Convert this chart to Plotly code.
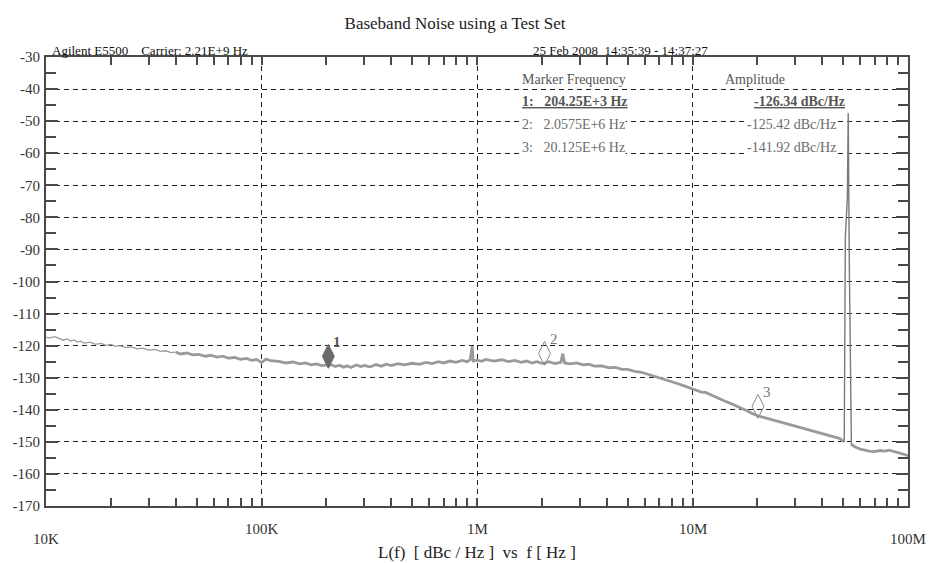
import math
import plotly.graph_objects as go

# Phase-noise trace, baseband sweep (Hz, dBc/Hz)
low_freq = [10000, 10500, 11000, 11500, 12000, 12500, 13000, 13500, 14000, 14500,
            15000, 16000, 17000, 18000, 19000, 20000, 21000, 22000, 23500, 25000,
            26500, 28000, 30000, 32000, 34000, 36000, 38000, 40000]
low_level = [-117.4, -117.6, -117.2, -117.8, -118.3, -117.9, -118.6, -118.2, -118.9, -118.6,
             -119.2, -118.9, -119.6, -119.3, -119.9, -119.6, -120.2, -120.0, -120.6, -120.4,
             -121.0, -120.8, -121.4, -121.2, -121.8, -121.6, -122.2, -122.0]

mid_freq = [40000, 42000, 45000, 48000, 51000, 55000, 58000, 62000, 66000, 70000,
            75000, 80000, 85000, 90000, 95000, 100000, 105000, 110000, 120000, 130000,
            140000, 150000, 160000, 170000, 180000, 190000, 200000, 204250, 210000, 220000,
            230000, 240000, 250000, 260000, 275000, 290000, 300000, 320000, 340000, 360000,
            380000, 400000, 430000, 460000, 500000, 540000, 580000, 620000, 660000, 700000,
            750000, 800000, 850000, 900000, 930000, 950000, 960000, 1000000, 1050000, 1100000,
            1200000, 1300000, 1400000, 1500000, 1600000, 1700000, 1800000, 1900000, 2000000, 2057500,
            2150000, 2300000, 2450000, 2500000, 2550000, 2700000, 2900000, 3100000, 3300000, 3500000,
            3800000, 4100000, 4400000, 4700000, 5000000, 5400000, 5800000, 6200000, 6600000, 7000000,
            7500000, 8000000, 8500000, 9000000, 9500000, 10000000, 10500000, 11000000, 11500000, 12000000,
            13000000, 14000000, 15000000, 16000000, 17000000, 18000000, 19000000, 20125000, 22000000, 24000000,
            26000000, 28000000, 30000000, 33000000, 36000000, 40000000, 44000000, 48000000, 50600000]
mid_level = [-122.0, -122.6, -122.3, -122.9, -122.7, -123.3, -123.0, -123.6, -123.3, -123.9,
             -123.7, -124.3, -124.0, -124.6, -124.3, -125.3, -124.2, -124.7, -124.9, -125.4,
             -125.1, -125.7, -125.4, -126.0, -125.7, -126.2, -126.0, -126.34, -125.9, -126.5,
             -126.1, -126.7, -126.3, -126.8, -126.0, -126.5, -126.2, -126.6, -125.9, -126.4,
             -125.8, -126.2, -125.6, -126.0, -125.5, -125.8, -125.2, -125.6, -125.0, -125.4,
             -124.8, -125.2, -124.6, -125.0, -124.4, -120.2, -124.8, -124.5, -124.9, -124.3,
             -124.8, -124.4, -125.0, -124.6, -125.2, -124.8, -125.4, -125.0, -125.5, -125.42,
             -125.0, -125.6, -125.2, -122.5, -125.4, -125.7, -125.4, -126.0, -125.8, -126.4,
             -126.3, -126.9, -126.8, -127.4, -127.4, -128.0, -128.3, -128.9, -129.3, -129.9,
             -130.5, -131.2, -131.8, -132.4, -133.0, -133.6, -134.0, -134.5, -134.6, -135.2,
             -136.2, -137.2, -138.0, -138.8, -139.6, -140.4, -141.2, -141.92, -142.6, -143.3,
             -143.9, -144.5, -145.0, -145.8, -146.5, -147.3, -148.1, -148.9, -150.0]

# Carrier feed-through spur
spur_freq = [50600000, 50900000, 51200000, 52300000, 52800000, 53400000, 54600000]
spur_level = [-150.0, -124.0, -86.0, -74.0, -47.5, -94.0, -150.5]

high_freq = [54600000, 55000000, 57000000, 60000000, 63000000, 66000000, 70000000, 74000000,
             78000000, 82000000, 86000000, 90000000, 95000000, 100000000]
high_level = [-150.5, -151.0, -151.6, -152.3, -152.6, -152.9, -153.0, -152.7,
              -152.9, -152.6, -153.0, -153.3, -153.8, -154.3]

# Marker readouts
marker_ids = ["1", "2", "3"]
marker_freq = [204.25e3, 2.0575e6, 20.125e6]
marker_freq_text = ["204.25E+3 Hz", "2.0575E+6 Hz", "20.125E+6 Hz"]
marker_level = [-126.34, -125.42, -141.92]

y_ticks = list(range(-170, -29, 10))
y_tick_text = [str(v) for v in y_ticks]
x_tick_vals = [1e4, 1e5, 1e6, 1e7, 1e8]
x_tick_text = ["10K", "100K", "1M", "10M", "100M"]

SERIF = "Liberation Serif"
TRACE = "#9a9a9a"
INK = "#555555"
diamond_lift = 3.0   # diamond sits above the trace, tip on the reading

fig = go.Figure()
fig.add_trace(go.Scatter(x=low_freq, y=low_level, mode="lines",
                         line=dict(color=TRACE, width=1.3), hoverinfo="skip"))
fig.add_trace(go.Scatter(x=mid_freq, y=mid_level, mode="lines",
                         line=dict(color=TRACE, width=2.8), hoverinfo="skip"))
fig.add_trace(go.Scatter(x=spur_freq, y=spur_level, mode="lines",
                         line=dict(color="#7a7a7a", width=1.4), hoverinfo="skip"))
fig.add_trace(go.Scatter(x=high_freq, y=high_level, mode="lines",
                         line=dict(color=TRACE, width=2.8), hoverinfo="skip"))

# Marker diamonds (1 is the active, filled one)
for i, (mid, f, lv) in enumerate(zip(marker_ids, marker_freq, marker_level)):
    active = i == 0
    fig.add_trace(go.Scatter(
        x=[f], y=[lv + diamond_lift], mode="markers",
        marker=dict(symbol="diamond-tall", size=17,
                    color="#6a6a6a" if active else "rgba(255,255,255,0)",
                    line=dict(color="#6a6a6a" if active else "#8a8a8a", width=1)),
        hoverinfo="skip"))
    fig.add_annotation(x=math.log10(f), y=lv + 2 * diamond_lift, xref="x", yref="y",
                       text=f"<b>{mid}</b>" if active else mid, showarrow=False,
                       xanchor="left", yanchor="bottom", xshift=3, yshift=-5,
                       font=dict(family=SERIF, size=15, color="#555" if active else "#777"))

axis_common = dict(showline=True, linecolor="#4a4a4a", linewidth=2, mirror="ticks",
                   ticks="inside", tickcolor="#4a4a4a", tickwidth=2,
                   showgrid=True, gridcolor="#222", gridwidth=1, griddash="5px,4px",
                   zeroline=False, tickfont=dict(family=SERIF, size=15, color="#333"))

fig.update_xaxes(type="log", range=[4, 8], tickvals=x_tick_vals, showticklabels=False,
                 ticklen=8,
                 minor=dict(dtick="D1", ticks="inside", ticklen=8, tickcolor="#4a4a4a",
                            tickwidth=1.5, showgrid=False),
                 **axis_common)
fig.update_yaxes(range=[-170, -30], tickvals=y_ticks, ticktext=y_tick_text,
                 ticklen=12, ticklabelstandoff=1,
                 minor=dict(dtick=5, ticks="inside", ticklen=10, tickcolor="#4a4a4a",
                            tickwidth=2, showgrid=False),
                 **axis_common)

# Header lines and marker table
PX_L, PX_R, PX_T, PX_B = 42, 908, 57, 506
def px(xp):
    return (xp - PX_L) / (PX_R - PX_L)
def py(yp):
    return (PX_B - yp) / (PX_B - PX_T)

def note(text, xp, yp, size=13, color="#222", anchor="left", bg=None):
    fig.add_annotation(x=px(xp), y=py(yp), xref="paper", yref="paper", text=text,
                       showarrow=False, xanchor=anchor, yanchor="middle",
                       font=dict(family=SERIF, size=size, color=color),
                       bgcolor=bg, borderpad=0)

# Frequency decade labels: end labels sit a little lower than the inner ones
for k, (v, t) in enumerate(zip(x_tick_vals, x_tick_text)):
    edge = k in (0, len(x_tick_vals) - 1)
    fig.add_annotation(x=math.log10(v), y=py(539 if edge else 529), xref="x", yref="paper",
                       text=t, showarrow=False, xanchor="center", yanchor="middle",
                       font=dict(family=SERIF, size=15, color="#333"))

note("Agilent E5500\u00a0\u00a0\u00a0\u00a0Carrier: 2.21E+9 Hz", 47, 50, size=13, color="#111")
note("25 Feb 2008\u00a0\u00a014:35:39 - 14:37:27", 530, 50, size=13, color="#111")
note("Marker Frequency", 519, 80, size=14, color=INK, bg="white")
note("Amplitude", 723, 80, size=14, color=INK, bg="white")
for i, (mid, ftxt, lv) in enumerate(zip(marker_ids, marker_freq_text, marker_level)):
    row_y = [101, 124, 147][i]
    ftext = f"{mid}:\u00a0\u00a0\u00a0{ftxt}"
    atext = f"{lv:.2f} dBc/Hz"
    if i == 0:
        ftext, atext = f"<b><u>{ftext}</u></b>", f"<b><u>{atext}</u></b>"
    note(ftext, 519, row_y, size=14, color="#555" if i == 0 else "#6a6a6a", bg="white")
    note(atext, 752 if i == 0 else 745, row_y, size=14,
         color="#555" if i == 0 else "#6a6a6a", bg="white")

note("L(f)\u00a0\u00a0[ dBc / Hz ]\u00a0\u00a0vs\u00a0\u00a0f [ Hz ]", 475, 552,
     size=17, color="#222", anchor="center")

fig.update_layout(
    width=931, height=563, showlegend=False,
    margin=dict(l=PX_L, r=931 - PX_R, t=PX_T, b=563 - PX_B),
    paper_bgcolor="white", plot_bgcolor="white",
    title=dict(text="Baseband Noise using a Test Set", x=455 / 931, xanchor="center",
               y=1 - 23 / 563, yanchor="middle", yref="container",
               font=dict(family=SERIF, size=17, color="#222")),
)

fig.write_html("out.html")
